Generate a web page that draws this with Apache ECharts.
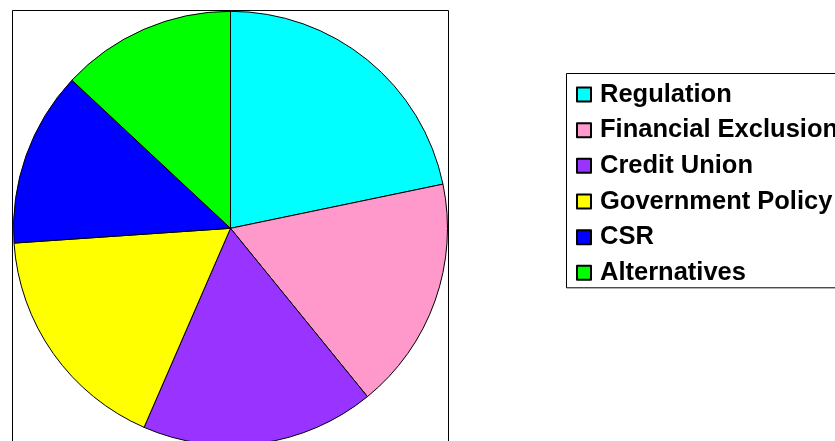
<!DOCTYPE html>
<html>
<head>
<meta charset="utf-8">
<script src="https://cdn.jsdelivr.net/npm/echarts@6/dist/echarts.min.js"></script>
<style>
html,body{margin:0;padding:0;background:#fff;}
#chart{width:835px;height:441px;}
</style>
</head>
<body>
<div id="chart"></div>
<script>
const categories = ['Regulation', 'Financial Exclusion', 'Credit Union', 'Government Policy', 'CSR', 'Alternatives'];
const values = [5, 4, 4, 4, 3, 3];
const colors = ['#00FFFF', '#FF99CC', '#9933FF', '#FFFF00', '#0000FF', '#00FF00'];

const chart = echarts.init(document.getElementById('chart'), null, {renderer: 'canvas'});
chart.setOption({
  animation: false,
  backgroundColor: '#ffffff',
  graphic: [{
    type: 'rect',
    shape: {x: 12.5, y: 10.5, width: 436, height: 500},
    style: {fill: 'none', stroke: '#000', lineWidth: 1},
    silent: true,
    z: -1
  }],
  legend: {
    orient: 'vertical',
    left: 566.5,
    top: 73.5,
    padding: [6, 40, 0, 9.5],
    borderColor: '#000',
    borderWidth: 1,
    backgroundColor: '#fff',
    icon: 'rect',
    itemWidth: 14,
    itemHeight: 14,
    itemGap: 5.66,
    selectedMode: false,
    textStyle: {
      fontFamily: 'Liberation Sans, Arial, sans-serif',
      fontWeight: 'bold',
      fontSize: 25.5,
      color: '#000',
      lineHeight: 30,
      padding: [0, 0, 0, 4]
    },
    data: categories
  },
  series: [{
    type: 'pie',
    center: [230.5, 228.3],
    radius: [0, 217],
    startAngle: 90,
    clockwise: true,
    label: {show: false},
    labelLine: {show: false},
    emphasis: {disabled: true},
    itemStyle: {borderColor: '#000', borderWidth: 1},
    data: categories.map((c, i) => ({name: c, value: values[i], itemStyle: {color: colors[i]}}))
  }]
});
</script>
</body>
</html>
